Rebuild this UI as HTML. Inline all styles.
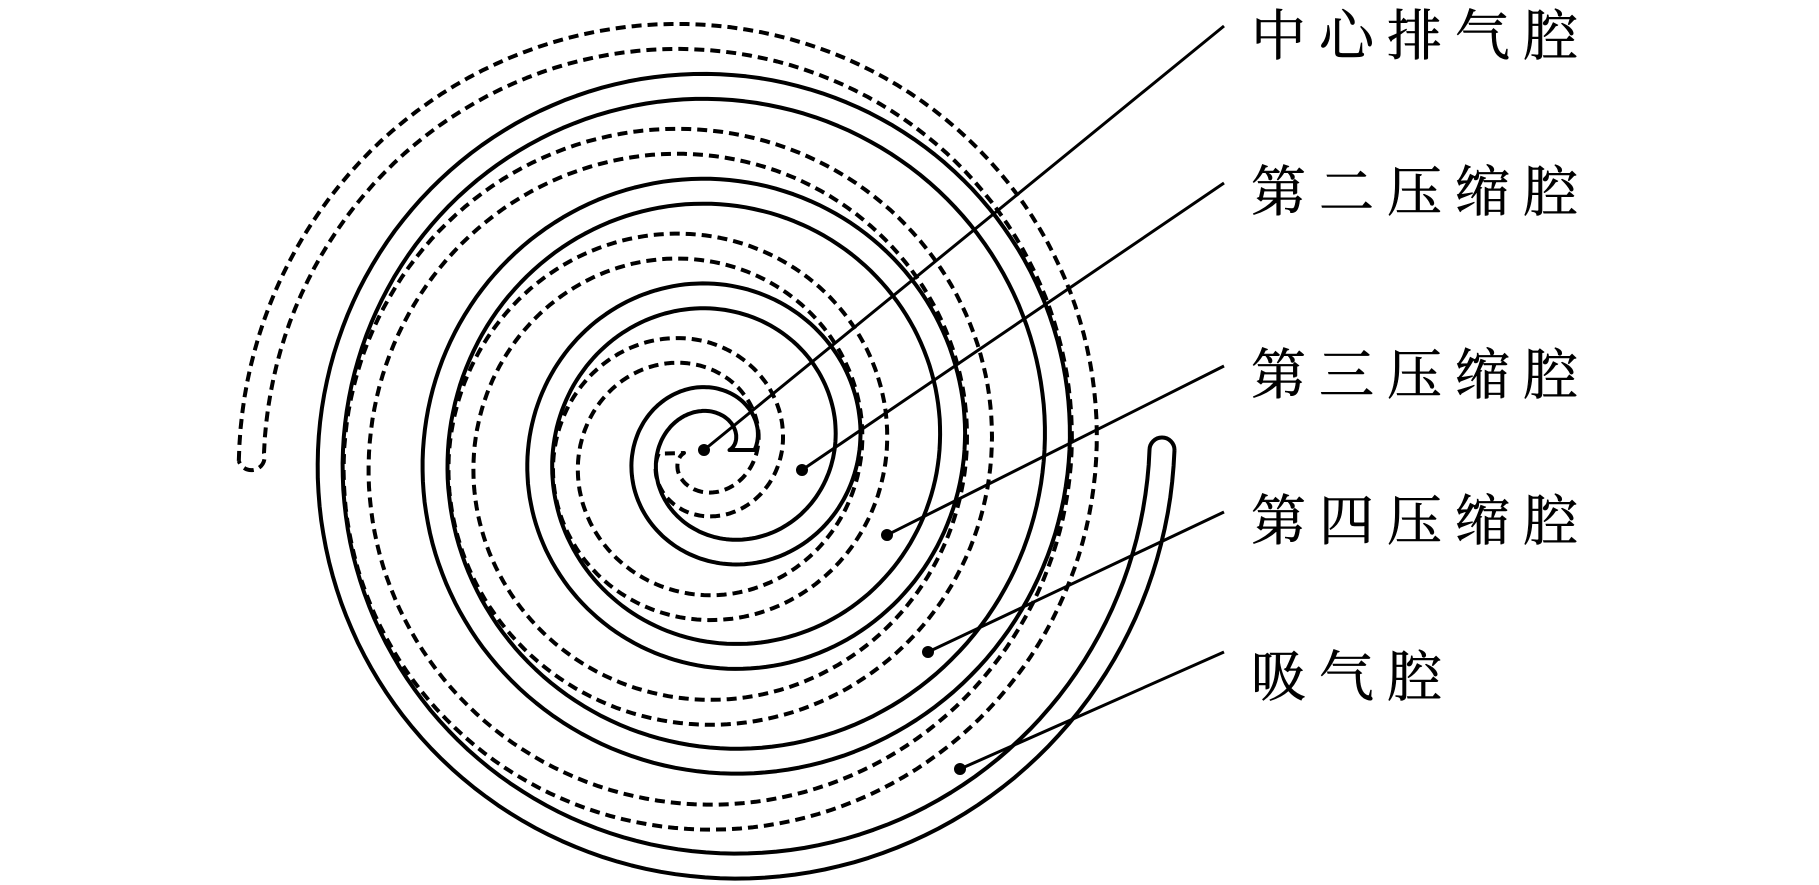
<!DOCTYPE html>
<html><head><meta charset="utf-8">
<style>
html,body{margin:0;padding:0;background:#fff;}
svg{display:block;}
text{font-family:"Liberation Serif","Noto Serif CJK SC",serif;font-size:55px;letter-spacing:13px;fill:#000;stroke:#000;stroke-width:0.6px;}
</style></head>
<body>
<svg id="s" width="1819" height="885" viewBox="0 0 1819 885" xmlns="http://www.w3.org/2000/svg">
<g id="sp" fill="none" stroke="#000" stroke-width="4" stroke-linejoin="round"></g>
<g stroke="#000" stroke-width="3">
<line x1="1224" y1="26" x2="704" y2="450"/>
<line x1="1224" y1="183" x2="802" y2="470"/>
<line x1="1224" y1="366" x2="887" y2="535"/>
<line x1="1224" y1="512" x2="928" y2="652"/>
<line x1="1224" y1="652" x2="960" y2="769"/>
</g>
<g fill="#000">
<circle cx="704" cy="450" r="6"/>
<circle cx="802" cy="470" r="6"/>
<circle cx="887" cy="535" r="6"/>
<circle cx="928" cy="652" r="6"/>
<circle cx="960" cy="769" r="6"/>
</g>
<text x="1251" y="55">中心排气腔</text>
<text x="1251" y="211">第二压缩腔</text>
<text x="1251" y="394">第三压缩腔</text>
<text x="1251" y="540">第四压缩腔</text>
<text x="1251" y="696">吸气腔</text>
</svg>
<script>
(function(){
 var P=105,h=12.5;
 function pt(cx,cy,A,off,t){var r=A-P*t/360+off;var a=t*Math.PI/180;return [cx+r*Math.cos(a),cy+r*Math.sin(a)];}
 function build(cx,cy,A,t0,t1,dash){
  var d="",p,t;
  for(t=t0;t<=t1;t+=2){p=pt(cx,cy,A,h,t);d+=(t==t0?"M":"L")+p[0].toFixed(1)+" "+p[1].toFixed(1)+" ";}
  for(t=t1;t>=t0;t-=2){p=pt(cx,cy,A,-h,t);d+="L"+p[0].toFixed(1)+" "+p[1].toFixed(1)+" ";}
  p=pt(cx,cy,A,h,t0);
  d+="A "+h+" "+h+" 0 0 1 "+p[0].toFixed(1)+" "+p[1].toFixed(1);
  var e=document.createElementNS("http://www.w3.org/2000/svg","path");
  e.setAttribute("d",d);
  if(dash)e.setAttribute("stroke-dasharray","10 6");
  document.getElementById("sp").appendChild(e);
 }
 build(720,450,442,0,1440,false);
 build(694,453,495,179,1620,true);
})();
</script>
</body></html>
